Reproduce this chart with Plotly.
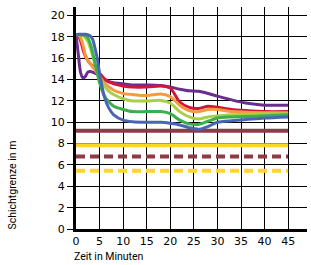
import plotly.graph_objects as go

time_min = [0, 0.5, 1, 1.5, 2, 2.5, 3, 3.5, 4, 4.5, 5, 6, 7, 8, 10, 12, 15, 18, 20, 22, 24, 26, 28, 30, 33, 36, 40, 45]
purple = [18.2, 16.3, 14.6, 14.15, 14.3, 14.7, 14.75, 14.7, 14.6, 14.5, 14.3, 14.0, 13.8, 13.7, 13.6, 13.5, 13.5, 13.45, 13.3, 13.1, 12.95, 12.9, 12.7, 12.45, 12.1, 11.8, 11.6, 11.6]
red = [18.2, 18.1, 17.6, 16.8, 16.2, 15.8, 15.5, 15.3, 15.1, 14.9, 14.6, 14.1, 13.8, 13.6, 13.4, 13.3, 13.3, 13.4, 13.2, 11.9, 11.4, 11.3, 11.5, 11.4, 11.2, 11.1, 11.0, 11.0]
orange = [18.2, 18.2, 17.9, 17.2, 16.3, 15.8, 15.5, 15.2, 14.9, 14.6, 14.3, 13.7, 13.3, 13.0, 12.7, 12.6, 12.5, 12.65, 12.4, 11.6, 11.1, 11.0, 11.2, 11.2, 11.0, 10.95, 10.9, 10.9]
lightgreen = [18.2, 18.2, 18.2, 18.1, 17.9, 17.6, 17.0, 16.3, 15.5, 14.8, 14.2, 13.4, 12.9, 12.6, 12.2, 12.0, 12.0, 12.05, 11.8, 11.0, 10.5, 10.3, 10.5, 10.6, 10.7, 10.75, 10.8, 10.8]
green = [18.2, 18.2, 18.2, 18.2, 18.1, 17.9, 17.4, 16.6, 15.6, 14.6, 13.7, 12.5, 11.9, 11.5, 11.2, 11.0, 11.0, 11.0, 10.8, 10.2, 9.85, 9.8, 10.1, 10.4, 10.5, 10.55, 10.6, 10.7]
blue = [18.2, 18.25, 18.25, 18.25, 18.25, 18.2, 18.1, 17.8, 17.0, 16.0, 14.6, 12.4, 11.3, 10.7, 10.2, 10.05, 10.0, 10.0, 9.9, 9.75, 9.5, 9.35, 9.6, 10.0, 10.15, 10.25, 10.4, 10.5]

ref_levels = [9.2, 7.85, 6.8, 5.45]
ref_colors = ["#8E3A47", "#FFD52B", "#8E3A47", "#FFD52B"]
ref_dash = ["solid", "solid", "9px,5px", "9px,5px"]
ref_span = [0, 45]

series = [
    (purple, "#6A2D8E"),
    (red, "#D3143E"),
    (orange, "#F7993D"),
    (lightgreen, "#A8D04A"),
    (green, "#3BAF4B"),
    (blue, "#4A66B0"),
]

fig = go.Figure()
for lvl, col, d in zip(ref_levels, ref_colors, ref_dash):
    fig.add_trace(go.Scatter(x=ref_span, y=[lvl, lvl], mode="lines",
                             line=dict(color=col, width=4, dash=d), hoverinfo="skip"))
for vals, col in series:
    fig.add_trace(go.Scatter(x=time_min, y=vals, mode="lines",
                             line=dict(color=col, width=3, shape="spline", smoothing=0.7)))

fig.update_layout(
    width=311, height=265,
    margin=dict(l=76, r=4, t=7, b=36),
    paper_bgcolor="white", plot_bgcolor="white",
    showlegend=False,
    font=dict(family="DejaVu Sans", size=11, color="black"),
)
fig.update_xaxes(range=[0, 49], tickvals=[0, 5, 10, 15, 20, 25, 30, 35, 40, 45],
                 showgrid=True, gridcolor="black", gridwidth=1.3,
                 showline=True, linecolor="black", linewidth=3,
                 zeroline=False, ticks="", ticklen=0,
                 tickfont=dict(family="DejaVu Sans", size=11))
fig.update_yaxes(range=[0, 20.8], tickvals=[0, 2, 4, 6, 8, 10, 12, 14, 16, 18, 20],
                 showgrid=True, gridcolor="black", gridwidth=1.3,
                 showline=True, linecolor="black", linewidth=3,
                 zeroline=False, ticks="outside", ticklen=6, tickwidth=1.3, tickcolor="black",
                 tickfont=dict(family="DejaVu Sans", size=11))

fig.add_annotation(text="Zeit in Minuten", xref="paper", yref="paper",
                   x=-0.017, y=-0.126, xanchor="left", yanchor="middle", showarrow=False,
                   font=dict(family="Roboto", size=10.5, color="black"))
fig.add_annotation(text="Schichtgrenze in m", xref="paper", yref="paper",
                   x=-0.273, y=0.2, xanchor="center", yanchor="middle", textangle=-90,
                   showarrow=False, font=dict(family="Roboto", size=10.5, color="black"))

fig.write_html("out.html")
